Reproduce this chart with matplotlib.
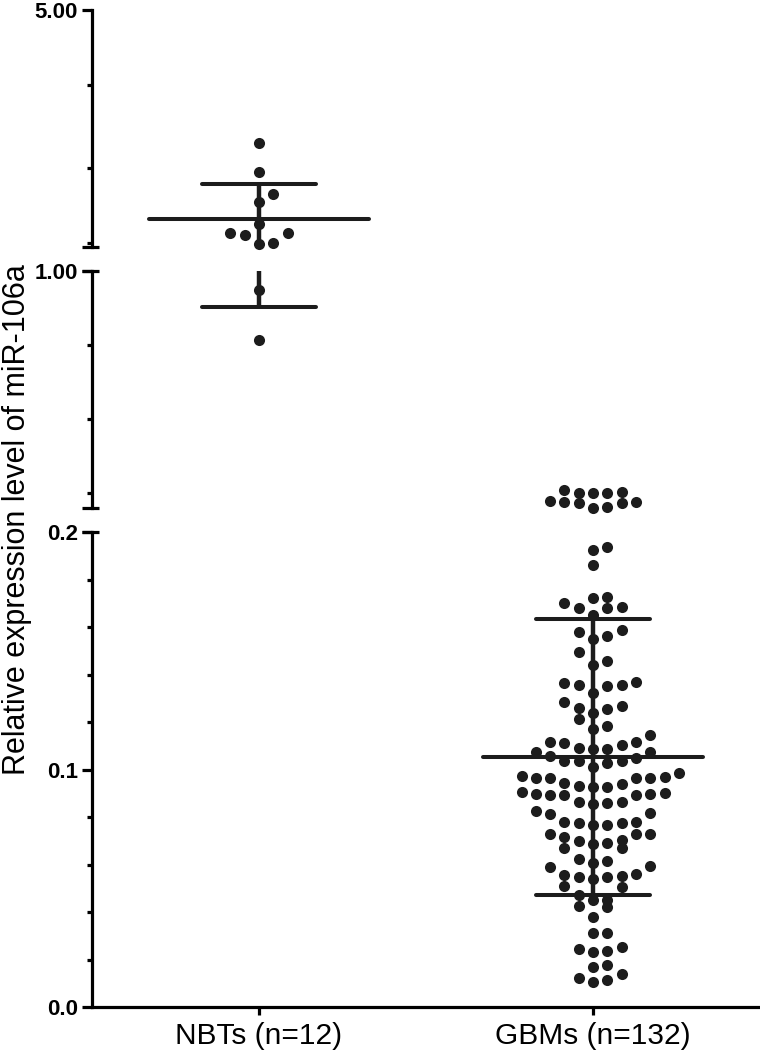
import numpy as np
import matplotlib
matplotlib.use("Agg")
import matplotlib.pyplot as plt
from matplotlib import rc

rc("font", family="Liberation Sans")

# Groups on the x axis
groups = ["NBTs (n=12)", "GBMs (n=132)"]
group_pos = [1, 2]

# Relative expression values
nbt_vals = [2.750, 2.261, 1.889, 1.760, 1.383, 1.241, 1.197, 1.231,
            1.051, 1.073, 0.935, 0.766]

gbm_vals = [
    0.2618, 0.2530, 0.2517, 0.2517, 0.2496, 0.2236, 0.2203, 0.2192,
    0.2179, 0.2169, 0.2044, 0.2000,
    0.1938, 0.1923, 0.1859, 0.1726, 0.1722, 0.1702, 0.1683, 0.1681,
    0.1679, 0.1651, 0.1587, 0.1578, 0.1562, 0.1549, 0.1495, 0.1458,
    0.1440, 0.1367, 0.1365, 0.1357, 0.1357, 0.1353, 0.1321, 0.1283,
    0.1267, 0.1260, 0.1256, 0.1237, 0.1211, 0.1183, 0.1172, 0.1145,
    0.1117, 0.1117, 0.1110, 0.1103, 0.1089, 0.1086, 0.1086, 0.1072,
    0.1072, 0.1056, 0.1047, 0.1036, 0.1036, 0.1036, 0.1027, 0.1012,
    0.0984, 0.0974, 0.0967, 0.0965, 0.0965, 0.0963, 0.0963, 0.0944,
    0.0938, 0.0931, 0.0925, 0.0925, 0.0904, 0.0902, 0.0896, 0.0896,
    0.0893, 0.0893, 0.0893, 0.0864, 0.0864, 0.0860, 0.0853, 0.0825,
    0.0816, 0.0811, 0.0780, 0.0780, 0.0773, 0.0773, 0.0768, 0.0766,
    0.0727, 0.0727, 0.0727, 0.0717, 0.0703, 0.0700, 0.0692, 0.0685,
    0.0668, 0.0668, 0.0622, 0.0616, 0.0608, 0.0595, 0.0588, 0.0560,
    0.0556, 0.0552, 0.0549, 0.0546, 0.0538, 0.0509, 0.0507, 0.0472,
    0.0451, 0.0451, 0.0425, 0.0419, 0.0379, 0.0312, 0.0312, 0.0254,
    0.0243, 0.0236, 0.0232, 0.0177, 0.0167, 0.0139, 0.0124, 0.0114,
    0.0104,
]

# Mean and SD bars
means = [1.467, 0.1053]
sds = [0.589, 0.0581]

# Broken y axis: segments from bottom to top
seg_limits = [(0.0, 0.2), (0.2, 1.0), (1.0, 5.0)]
seg_major = [[0.0, 0.1, 0.2], [1.0], [5.0]]
seg_labels = [["0.0", "0.1", "0.2"], ["1.00"], ["5.00"]]
seg_minor = [[0.02, 0.04, 0.06, 0.08, 0.12, 0.14, 0.16, 0.18],
             [0.25, 0.5, 0.75],
             [1.07, 2.33, 3.73]]

W, H = 760, 1053
dot_color = "#1c1c1c"
lw_axis = 2.3
lw_bar = 2.9
slot_px = 14.3      # horizontal spacing of dots
row_px = 14.3       # dots closer than this share a row

fig = plt.figure(figsize=(W / 100, H / 100), dpi=100)

def px_box(top, bottom, left=92, right=760):
    return [left / W, 1 - bottom / H, (right - left) / W, (bottom - top) / H]

ax_bot = fig.add_axes(px_box(532, 1007))
ax_mid = fig.add_axes(px_box(271, 508))
ax_top = fig.add_axes(px_box(10, 247))
axes = [ax_bot, ax_mid, ax_top]

xlim = (0.5, 2.5)
ax_w_px = (760 - 92)
dx_slot = slot_px * (xlim[1] - xlim[0]) / ax_w_px


def slot_of(k):
    # 0, +1, -1, +2, -2, ...
    if k == 0:
        return 0
    return (k + 1) // 2 if k % 2 else -(k // 2)


def swarm_x(vals, centre, lo, ppu):
    vals = np.asarray(vals)
    xs = np.zeros(len(vals))
    row_start = None
    k = 0
    for i in np.argsort(vals, kind="stable"):
        p = (vals[i] - lo) * ppu
        if row_start is None or p - row_start > row_px:
            row_start = p
            k = 0
        xs[i] = centre + slot_of(k) * dx_slot
        k += 1
    return xs


for ax, (lo, hi), maj, labs, mnr in zip(axes, seg_limits, seg_major,
                                         seg_labels, seg_minor):
    ax.set_xlim(*xlim)
    ax.set_ylim(lo, hi)
    h_px = ax.get_position().height * H
    ppu = h_px / (hi - lo)

    # dots
    for vals, pos in zip([nbt_vals, gbm_vals], group_pos):
        v = np.asarray(vals)
        if hi == seg_limits[-1][1]:
            sel = v >= lo
        elif lo == 0.0:
            sel = v < hi
        else:
            sel = (v >= lo) & (v < hi)
        if sel.any():
            xs = swarm_x(v[sel], pos, lo, ppu)
            ax.plot(xs, v[sel], "o", color=dot_color, markersize=8,
                    markeredgewidth=0, clip_on=False, zorder=3)

    # mean +/- SD
    for m, s, pos in zip(means, sds, group_pos):
        ax.plot([pos - 0.33, pos + 0.33], [m, m], color=dot_color,
                lw=lw_bar, solid_capstyle="round", zorder=4)
        for e in (m - s, m + s):
            ax.plot([pos - 0.17, pos + 0.17], [e, e], color=dot_color,
                    lw=lw_bar, solid_capstyle="round", zorder=4)
        ax.plot([pos, pos], [m - s, m + s], color=dot_color,
                lw=lw_bar + 0.3, solid_capstyle="butt", zorder=4)

    # spines and ticks
    for side in ["top", "right"]:
        ax.spines[side].set_visible(False)
    ax.spines["left"].set_linewidth(lw_axis)
    ax.spines["bottom"].set_linewidth(lw_axis)
    if ax is not ax_bot:
        ax.spines["bottom"].set_visible(False)
        ax.set_xticks([])
    ax.set_yticks(maj)
    ax.set_yticklabels(labs, fontweight="bold", fontsize=16)
    ax.set_yticks(mnr, minor=True)
    ax.tick_params(axis="y", which="major", length=7, width=lw_axis, pad=3)
    ax.tick_params(axis="y", which="minor", length=3.5, width=lw_axis)
    ax.patch.set_visible(False)

# break caps on the axis ends
cap = 7.0 / ax_w_px
caps = [(ax_bot, 0.2), (ax_mid, 0.2), (ax_mid, 1.0), (ax_top, 1.0)]
for ax, yv in caps:
    ax.plot([-cap * 1.4, cap], [yv, yv], color="black", lw=lw_axis,
            transform=ax.get_yaxis_transform(), clip_on=False,
            solid_capstyle="butt")

ax_bot.set_xticks(group_pos)
ax_bot.set_xticklabels(groups, fontsize=21.5)
ax_bot.tick_params(axis="x", length=6, width=lw_axis, pad=5)

fig.text(17 / W, 1 - 520 / H, "Relative expression level of miR-106a",
         rotation=90, ha="center", va="center", fontsize=22)

plt.savefig("out.png", dpi=100)
